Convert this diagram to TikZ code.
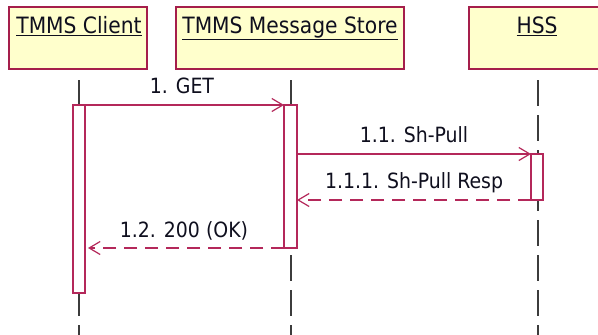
\documentclass[tikz,border=0pt]{standalone}
\usepackage{fontspec}
\setmainfont{DejaVu Sans Condensed}
\usetikzlibrary{arrows.meta}
\definecolor{boxfill}{RGB}{255,255,204}
\definecolor{boxline}{RGB}{165,30,75}
\definecolor{msgline}{RGB}{180,40,90}
\definecolor{lifeline}{RGB}{60,60,60}
\definecolor{txt}{RGB}{15,15,30}
\tikzset{
  x=1pt,y=-1pt,
  headbox/.style={draw=boxline,fill=boxfill,line width=1.3pt},
  headlabel/.style={anchor=base,text=txt,font=\fontsize{22.5}{24}\selectfont,inner sep=0pt},
  lifeln/.style={draw=lifeline,line width=1.3pt,dash pattern=on 26pt off 9pt},
  actbar/.style={draw=msgline,fill=white,line width=1.2pt},
  msgcall/.style={draw=msgline,line width=1.2pt,-{Straight Barb[length=11pt,width=13pt,line width=1.2pt]}},
  msgret/.style={msgcall,dash pattern=on 13pt off 8pt},
  msglabel/.style={anchor=base,text=txt,font=\fontsize{21}{23}\selectfont,inner sep=0pt},
}
\begin{document}
\begin{tikzpicture}
\useasboundingbox[fill=white] (0,0) rectangle (598,335);
\begin{scope}
\clip (0,0) rectangle (598,335);
% head boxes
\draw[headbox] (9,7) rectangle (147,69);
\draw[headbox] (176,7) rectangle (404,69);
\draw[headbox] (469,7) rectangle (606,69);
\node[headlabel] (hc) at (79,33) {\underline{TMMS Client}};
\node[headlabel] (hm) at (290,33) {\underline{TMMS Message Store}};
\node[headlabel] (hh) at (537,33) {\underline{HSS}};
% lifelines
\coordinate (lc0) at (79,80); \coordinate (lc1) at (79,340);
\coordinate (lm0) at (291,80); \coordinate (lm1) at (291,340);
\coordinate (lh0) at (538,80); \coordinate (lh1) at (538,340);
\draw[lifeln] (lc0) -- (lc1);
\draw[lifeln] (lm0) -- (lm1);
\draw[lifeln] (lh0) -- (lh1);
% activation bars
\draw[actbar] (73,105) rectangle (85,293);
\draw[actbar] (284,105) rectangle (297,248);
\draw[actbar] (531,154) rectangle (543,200);
% message end points
\coordinate (a1) at (85,105); \coordinate (b1) at (284,105);
\coordinate (a2) at (297,154); \coordinate (b2) at (531,154);
\coordinate (a3) at (531,200); \coordinate (b3) at (297,200);
\coordinate (a4) at (284,248); \coordinate (b4) at (88,248);
\draw[msgcall] (a1) -- (b1);
\draw[msgcall] (a2) -- (b2);
\draw[msgret] (a3) -- (b3);
\draw[msgret] (a4) -- (b4);
\node[msglabel] (l1) at (182,93) {1. GET};
\node[msglabel] (l2) at (414,142) {1.1. Sh-Pull};
\node[msglabel] (l3) at (414,188) {1.1.1. Sh-Pull Resp};
\node[msglabel] (l4) at (184,237) {1.2. 200 (OK)};
\end{scope}
\end{tikzpicture}
\end{document}
